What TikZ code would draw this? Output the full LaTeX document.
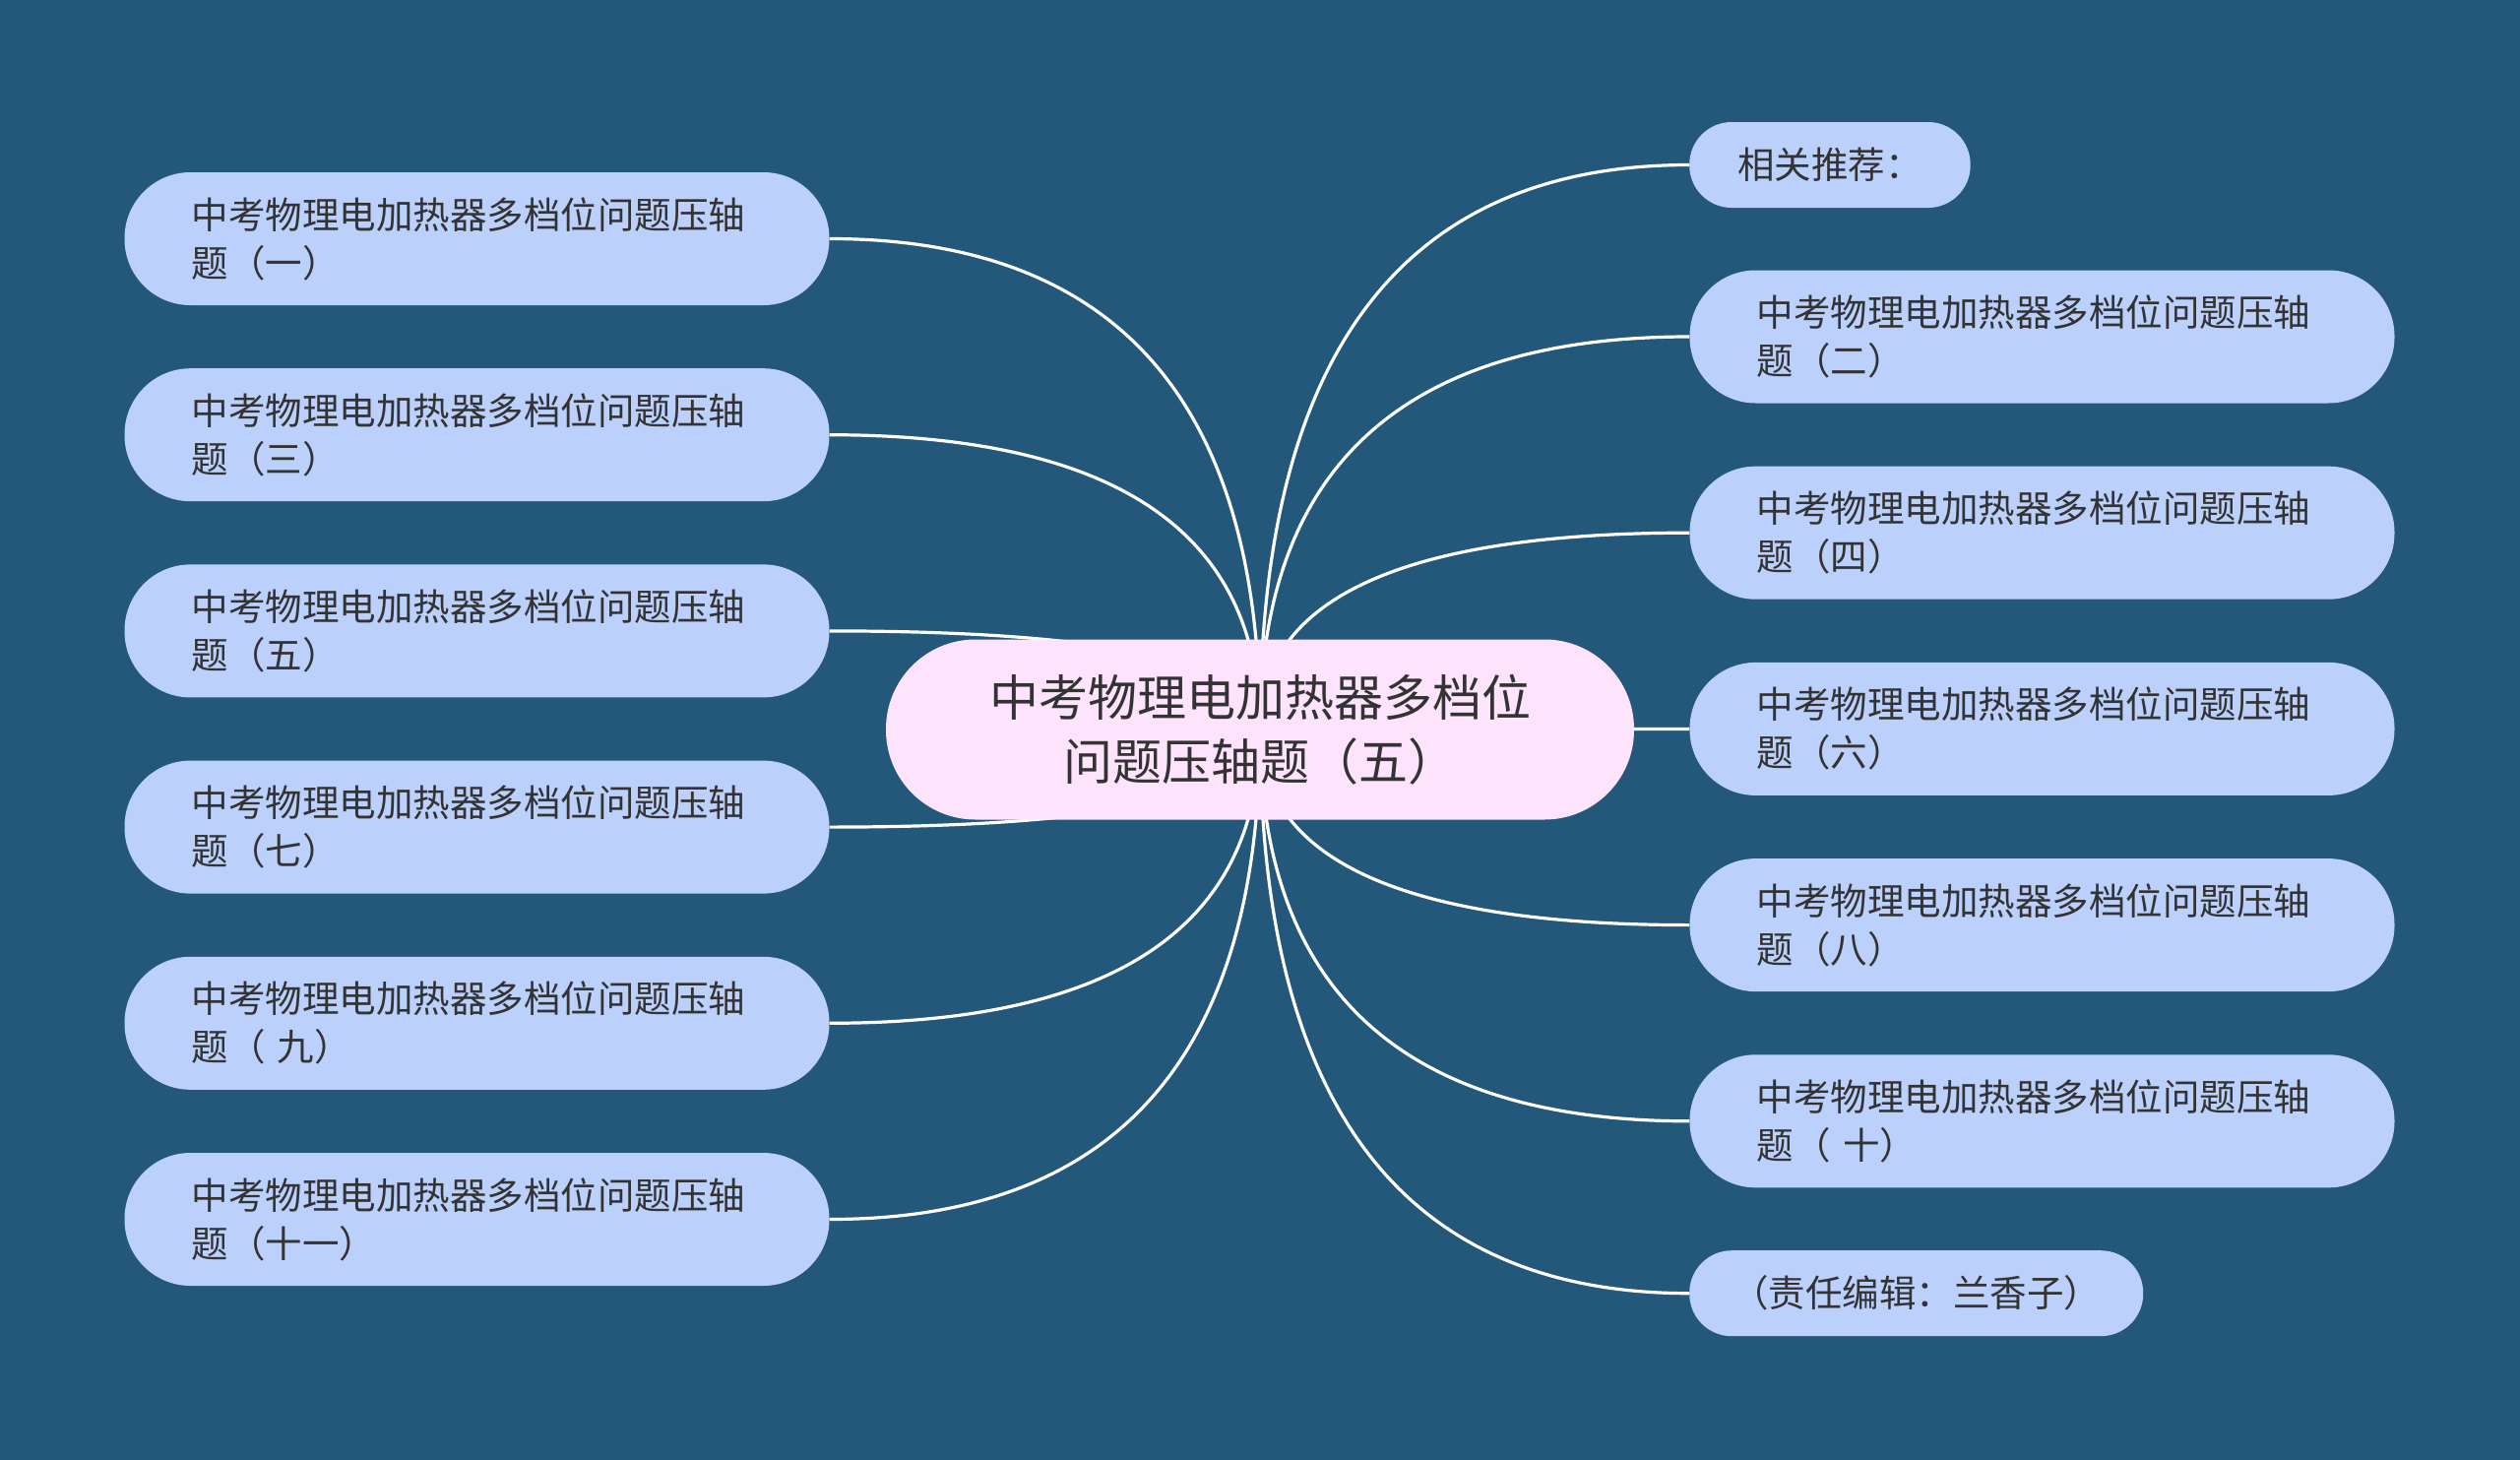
\documentclass[tikz,border=0pt]{standalone}
\usepackage{fontspec}
\newfontfamily\cjk{Noto Sans CJK SC}
\usetikzlibrary{positioning,calc,backgrounds}
\definecolor{bgblue}{RGB}{36,88,122}
\definecolor{leafblue}{RGB}{187,208,251}
\definecolor{rootpink}{RGB}{253,228,252}
\definecolor{inkgray}{RGB}{51,51,51}

\begin{document}
\begin{tikzpicture}[x=1pt,y=-1pt,edge/.style={draw=white,line width=3.2pt}]
\tikzstyle{every node}=[text=inkgray]
\tikzstyle{leaf}=[rectangle,fill=leafblue,rounded corners=67pt,minimum height=135pt,text width=580pt,inner xsep=68pt,inner ysep=0pt,align=left,font=\cjk\fontsize{37.5pt}{49pt}\selectfont]
\tikzstyle{tag}=[rectangle,fill=leafblue,rounded corners=43pt,minimum height=87pt,inner xsep=49pt,inner ysep=0pt,anchor=west,font=\cjk\fontsize{37.5pt}{49pt}\selectfont]
\tikzstyle{root}=[rectangle,fill=rootpink,rounded corners=91pt,minimum width=760pt,minimum height=183pt,inner sep=0pt,align=center,font=\cjk\fontsize{50pt}{65pt}\selectfont]

\useasboundingbox (0,0) rectangle (2560,1483);

\node[root]		(c) at (1280,741) {中考物理电加热器多档位\\问题压轴题（五）};

% left column
\node[leaf]		(l1) at (484.5,242.5) {中考物理电加热器多档位问题压轴\\题（一）};
\node[leaf]		(l2) [below of=l1,node distance=199.2pt] {中考物理电加热器多档位问题压轴\\题（三）};
\node[leaf]		(l3) [below of=l2,node distance=199.2pt] {中考物理电加热器多档位问题压轴\\题（五）};
\node[leaf]		(l4) [below of=l3,node distance=199.2pt] {中考物理电加热器多档位问题压轴\\题（七）};
\node[leaf]		(l5) [below of=l4,node distance=199.2pt] {中考物理电加热器多档位问题压轴\\题（ 九）};
\node[leaf]		(l6) [below of=l5,node distance=199.2pt] {中考物理电加热器多档位问题压轴\\题（十一）};

% right column
\node[tag]		(r0) at (1716,167.5) {相关推荐：};
\node[leaf]		(r1) at (2074.5,342) {中考物理电加热器多档位问题压轴\\题（二）};
\node[leaf]		(r2) [below of=r1,node distance=199.2pt] {中考物理电加热器多档位问题压轴\\题（四）};
\node[leaf]		(r3) [below of=r2,node distance=199.2pt] {中考物理电加热器多档位问题压轴\\题（六）};
\node[leaf]		(r4) [below of=r3,node distance=199.2pt] {中考物理电加热器多档位问题压轴\\题（八）};
\node[leaf]		(r5) [below of=r4,node distance=199.2pt] {中考物理电加热器多档位问题压轴\\题（ 十）};
\node[tag]		(r6) [inner xsep=43pt] at (1716,1313.7) {（责任编辑：兰香子）};

\begin{scope}[on background layer]
\fill[bgblue] (0,0) rectangle (2560,1483);
\foreach \n/\a in {l1/east,l2/east,l3/east,l4/east,l5/east,l6/east,r0/west,r1/west,r2/west,r3/west,r4/west,r5/west,r6/west}
  \draw[edge] (c.center) .. controls ($(c.center)!0.667!(c.center |- \n.\a)$) and ($(\n.\a)!0.667!(c.center |- \n.\a)$) .. (\n.\a);
\end{scope}
\end{tikzpicture}
\end{document}
